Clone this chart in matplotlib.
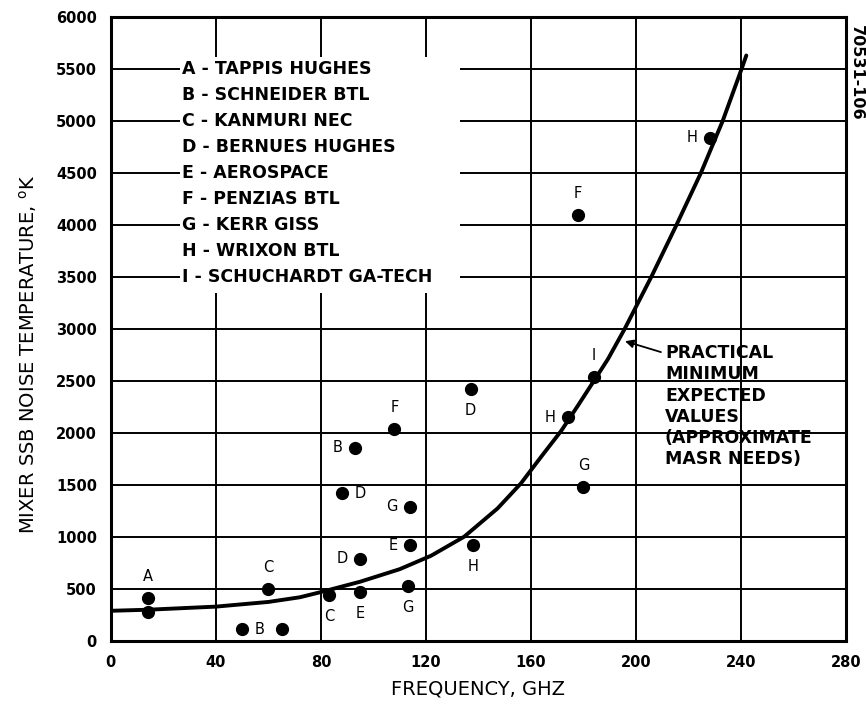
import matplotlib.pyplot as plt
from matplotlib.patches import Rectangle

# measured points (GHz, K) with the lab letter
freq = [14, 14, 50, 65, 60, 83, 95, 113, 95, 114, 114, 88, 93, 108, 137, 138, 180, 174, 184, 178, 228]
temp = [410, 282, 110, 110, 497, 442, 474, 529, 790, 920, 1290, 1420, 1860, 2040, 2420, 920, 1480, 2150, 2540, 4100, 4840]
letters = ['A', '', 'B', '', 'C', 'C', 'E', 'G', 'D', 'E', 'G', 'D', 'B', 'F', 'D', 'H', 'G', 'H', 'I', 'F', 'H']
label_side = ['up', '', 'right', '', 'up', 'down', 'down', 'down', 'left', 'left', 'left', 'right', 'left',
              'up', 'down', 'down', 'up', 'left', 'up', 'up', 'left']

# practical minimum expected curve
curve_f = [0, 14, 40, 60, 72, 80, 95, 110, 122, 134.6, 147.3, 156.2, 163.9, 171.5, 177.8, 184.2,
           189.3, 195.6, 205.8, 215.4, 224.7, 233, 240.2, 242]
curve_t = [290, 300, 330, 375, 420, 470, 570, 690, 820, 1003, 1275, 1516, 1772, 2020, 2260, 2510,
           2710, 2997, 3500, 4000, 4500, 5000, 5500, 5630]

legend_lines = ['A - TAPPIS HUGHES', 'B - SCHNEIDER BTL', 'C - KANMURI NEC', 'D - BERNUES HUGHES',
                'E - AEROSPACE', 'F - PENZIAS BTL', 'G - KERR GISS', 'H - WRIXON BTL', 'I - SCHUCHARDT GA-TECH']
note_lines = ['PRACTICAL', 'MINIMUM', 'EXPECTED', 'VALUES', '(APPROXIMATE', 'MASR NEEDS)']

xticks = list(range(0, 281, 40))
yticks = list(range(0, 6001, 500))

plt.rcParams['font.family'] = 'DejaVu Sans'

fig = plt.figure(figsize=(8.66, 7.09), dpi=100)
ax = fig.add_axes([0.128, 0.096, 0.849, 0.880])

ax.set_xlim(0, 280)
ax.set_ylim(0, 6000)
ax.set_xticks(xticks)
ax.set_yticks(yticks)
ax.tick_params(length=0, labelsize=10.5, pad=10)
for lab in ax.get_xticklabels() + ax.get_yticklabels():
    lab.set_fontweight('bold')
ax.grid(True, color='black', linewidth=1.4, zorder=1)
for sp in ax.spines.values():
    sp.set_linewidth(2.2)

# curve and data points
ax.plot(curve_f, curve_t, color='black', linewidth=2.8, zorder=3,
        solid_joinstyle='round', solid_capstyle='round')
ax.plot(freq, temp, 'o', color='black', markersize=8.5, zorder=4)

offsets = {'up': (0, 10, 'center', 'bottom'), 'down': (0, -10, 'center', 'top'),
           'left': (-9, 0, 'right', 'center'), 'right': (9, 0, 'left', 'center')}
for f, t, s, side in zip(freq, temp, letters, label_side):
    if not s:
        continue
    dx, dy, ha, va = offsets[side]
    ax.annotate(s, (f, t), xytext=(dx, dy), textcoords='offset points',
                ha=ha, va=va, fontsize=10.5, zorder=5)

# white block behind the list of sources
ax.add_patch(Rectangle((26.5, 3350), 106.5, 2270, facecolor='white', edgecolor='none', zorder=2))
for i, line in enumerate(legend_lines):
    ax.text(27, 5500 - 250 * i, line, fontsize=12.5, fontweight='bold', ha='left', va='center', zorder=5)

# note with arrow to the curve
for i, line in enumerate(note_lines):
    ax.text(211, 2770 - 205 * i, line, fontsize=12.5, fontweight='bold', ha='left', va='center', zorder=5)
ax.annotate('', xy=(194.8, 2890), xytext=(210.5, 2770),
            arrowprops=dict(arrowstyle='-|>', color='black', lw=1.3, mutation_scale=12), zorder=5)

ax.set_xlabel('FREQUENCY, GHZ', fontsize=14)
ax.set_ylabel(r'MIXER SSB NOISE TEMPERATURE, $^{\mathrm{o}}$K', fontsize=14)
ax.xaxis.set_label_coords(0.5, -0.062)
ax.yaxis.set_label_coords(-0.098, 0.46)

fig.text(0.989, 0.898, '70531-106', rotation=-90, fontsize=11.5, fontweight='bold',
         ha='center', va='center')

fig.savefig('out.png', dpi=100)
